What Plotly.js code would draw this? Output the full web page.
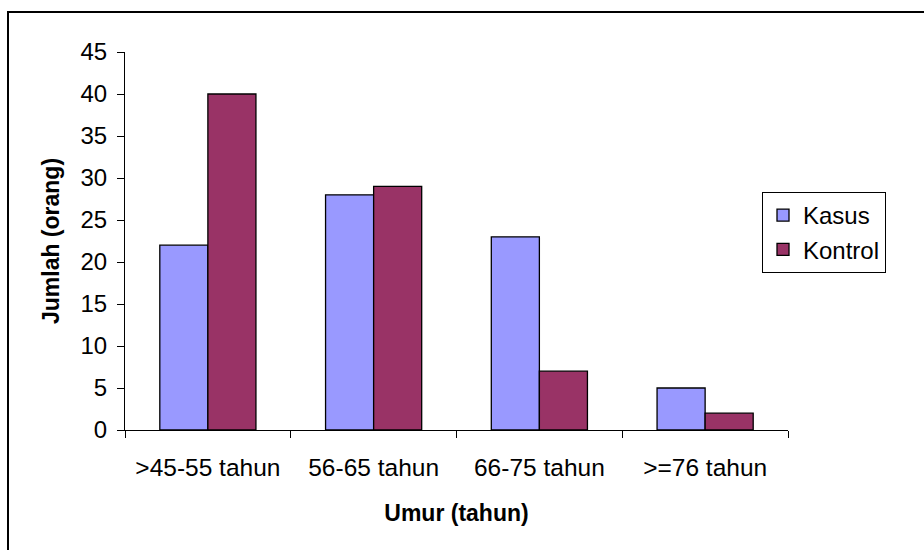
<!DOCTYPE html>
<html>
<head>
<meta charset="utf-8">
<script src="https://cdn.plot.ly/plotly-3.0.1.min.js"></script>
<style>html,body{margin:0;padding:0;background:#fff;}#chart{width:924px;height:550px;}</style>
</head>
<body>
<div id="chart"></div>
<script>
const categories = [">45-55 tahun", "56-65 tahun", "66-75 tahun", ">=76 tahun"];
const kasus = [22, 28, 23, 5];
const kontrol = [40, 29, 7, 2];
const yTicks = [0, 5, 10, 15, 20, 25, 30, 35, 40, 45];

const L = 125, R = 136, T = 52, B = 120;
const W = 924, H = 550;
const pw = W - L - R, ph = H - T - B;
const px = x => (x - L) / pw;
const py = y => 1 - (y - T) / ph;

const traces = [
  {type: 'bar', name: 'Kasus', x: categories, y: kasus, legendgroup: 'a',
   marker: {color: '#9999FF', line: {color: '#000', width: 1.3}}},
  {type: 'bar', name: 'Kontrol', x: categories, y: kontrol, legendgroup: 'b',
   marker: {color: '#993366', line: {color: '#000', width: 1.3}}}
];

const layout = {
  width: W, height: H,
  margin: {l: L, r: R, t: T, b: B},
  paper_bgcolor: '#fff', plot_bgcolor: '#fff',
  font: {family: 'Liberation Sans, Arial, sans-serif', size: 24, color: '#000'},
  barmode: 'group', bargap: 0.42, bargroupgap: 0,
  showlegend: true,
  legend: {x: px(762), y: py(192), xanchor: 'left', yanchor: 'top',
    bordercolor: '#000', borderwidth: 1, bgcolor: '#fff',
    font: {size: 24}, tracegroupgap: 20, traceorder: 'normal', itemwidth: 30},
  xaxis: {
    type: 'category', showgrid: false, zeroline: false,
    showline: true, linecolor: '#000', linewidth: 1,
    ticks: 'outside', ticklen: 7, tickcolor: '#000', tickson: 'boundaries',
    tickfont: {size: 24.5}, ticklabelstandoff: 16,
    title: {text: '<b>Umur (tahun)</b>', font: {size: 23}, standoff: 24}
  },
  yaxis: {
    range: [0, 45], tickvals: yTicks, ticktext: yTicks.map(String),
    showgrid: false, zeroline: false,
    showline: true, linecolor: '#000', linewidth: 1,
    ticks: 'outside', ticklen: 7, tickcolor: '#000',
    tickfont: {size: 24}, ticklabelstandoff: 5,
    title: {text: '<b>Jumlah (orang)</b>', font: {size: 23}, standoff: 14}
  },
  shapes: [
    {type: 'rect', xref: 'paper', yref: 'paper',
     x0: px(8), x1: px(940), y0: py(570), y1: py(12),
     line: {color: '#000', width: 2}, fillcolor: 'rgba(0,0,0,0)', layer: 'below'}
  ]
};

Plotly.newPlot('chart', traces, layout, {displayModeBar: false, staticPlot: true});
</script>
</body>
</html>
